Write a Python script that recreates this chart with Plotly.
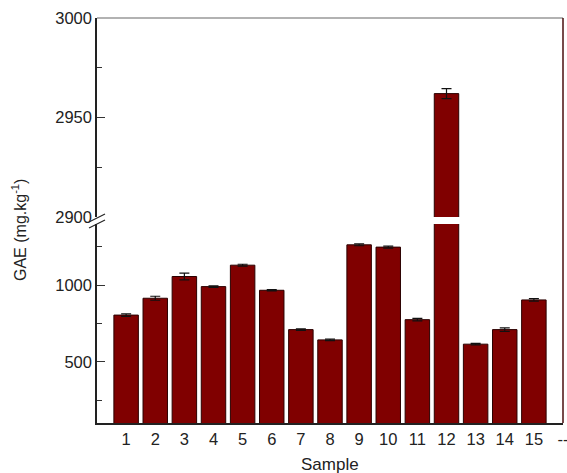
import plotly.graph_objects as go

samples = list(range(1, 16))
gae = [805, 915, 1057, 991, 1131, 967, 710, 643, 1264, 1249, 775, 2962, 615, 710, 904]
err = [8, 13, 22, 5, 6, 4, 5, 5, 6, 6, 8, 2.5, 5, 11, 8]
x_tickvals = list(range(1, 17))
x_ticktext = [str(i) for i in range(1, 16)] + ["--"]

bar_color = "#800000"
font_family = "Liberation Sans, Arial, sans-serif"

fig = go.Figure()
for ya in ["y", "y2"]:
    fig.add_trace(go.Bar(
        x=samples, y=gae, yaxis=ya, xaxis="x",
        width=0.84,
        marker=dict(color=bar_color, line=dict(color="#2a0000", width=1)),
        error_y=dict(type="data", array=err, color="#111", thickness=1.2, width=5),
        showlegend=False,
    ))

L, R, T, B = 97, 4, 18, 50
W, H = 567, 473
pw, ph = W - L - R, H - T - B

def px(xp):
    return (xp - L) / pw

def py(yp):
    return (H - B - yp) / ph

low_top = py(224)
up_bot = py(217)

tickfont = dict(family=font_family, size=16.5, color="#222")

fig.update_layout(
    width=W, height=H,
    margin=dict(l=L, r=R, t=T, b=B, autoexpand=False),
    plot_bgcolor="white", paper_bgcolor="white",
    bargap=0.16,
    xaxis=dict(
        range=[0, 16], tickvals=x_tickvals, ticktext=x_ticktext,
        showline=True, linecolor="#222", linewidth=1.5, ticks="",
        ticklabeloverflow="allow", automargin=False,
        showgrid=False, zeroline=False, tickfont=dict(family=font_family, size=16.5, color="#222"),
        anchor="y",
    ),
    yaxis=dict(
        domain=[0, low_top], range=[100, 1400], automargin=False,
        tickvals=[500, 1000], ticks="inside", ticklen=8, tickcolor="#333",
        minor=dict(tickvals=[250, 750, 1250], ticks="inside", ticklen=5, tickcolor="#333"),
        showline=True, linecolor="#222", linewidth=1.5,
        showgrid=False, zeroline=False, tickfont=tickfont,
    ),
    yaxis2=dict(
        domain=[up_bot, 1], range=[2900, 3000], automargin=False,
        tickvals=[2900, 2950, 3000], ticks="inside", ticklen=8, tickcolor="#333",
        minor=dict(tickvals=[2925, 2975], ticks="inside", ticklen=5, tickcolor="#333"),
        showline=True, linecolor="#222", linewidth=1.5,
        showgrid=False, zeroline=False, tickfont=tickfont, anchor="x",
    ),
    shapes=[
        dict(type="line", xref="paper", yref="paper", x0=0, x1=1, y0=1, y1=1,
             line=dict(color="#999", width=1.5)),
        dict(type="line", xref="paper", yref="paper", x0=1, x1=1, y0=0, y1=1,
             line=dict(color="#4a0f0f", width=1.5)),
        dict(type="line", xref="paper", yref="paper", x0=px(89), x1=px(105), y0=py(222), y1=py(214),
             line=dict(color="#222", width=1.2)),
        dict(type="line", xref="paper", yref="paper", x0=px(89), x1=px(105), y0=py(228), y1=py(220),
             line=dict(color="#222", width=1.2)),
    ],
    annotations=[
        dict(text="GAE (mg.kg<sup>-1</sup>)", xref="paper", yref="paper",
             x=px(19), y=py(230), textangle=-90, showarrow=False,
             xanchor="center", yanchor="middle",
             font=dict(family=font_family, size=16, color="#222")),
        dict(text="Sample", xref="paper", yref="paper",
             x=px(330), y=py(465), showarrow=False,
             xanchor="center", yanchor="middle",
             font=dict(family=font_family, size=17, color="#222")),
    ],
)

fig.write_html("out.html")
